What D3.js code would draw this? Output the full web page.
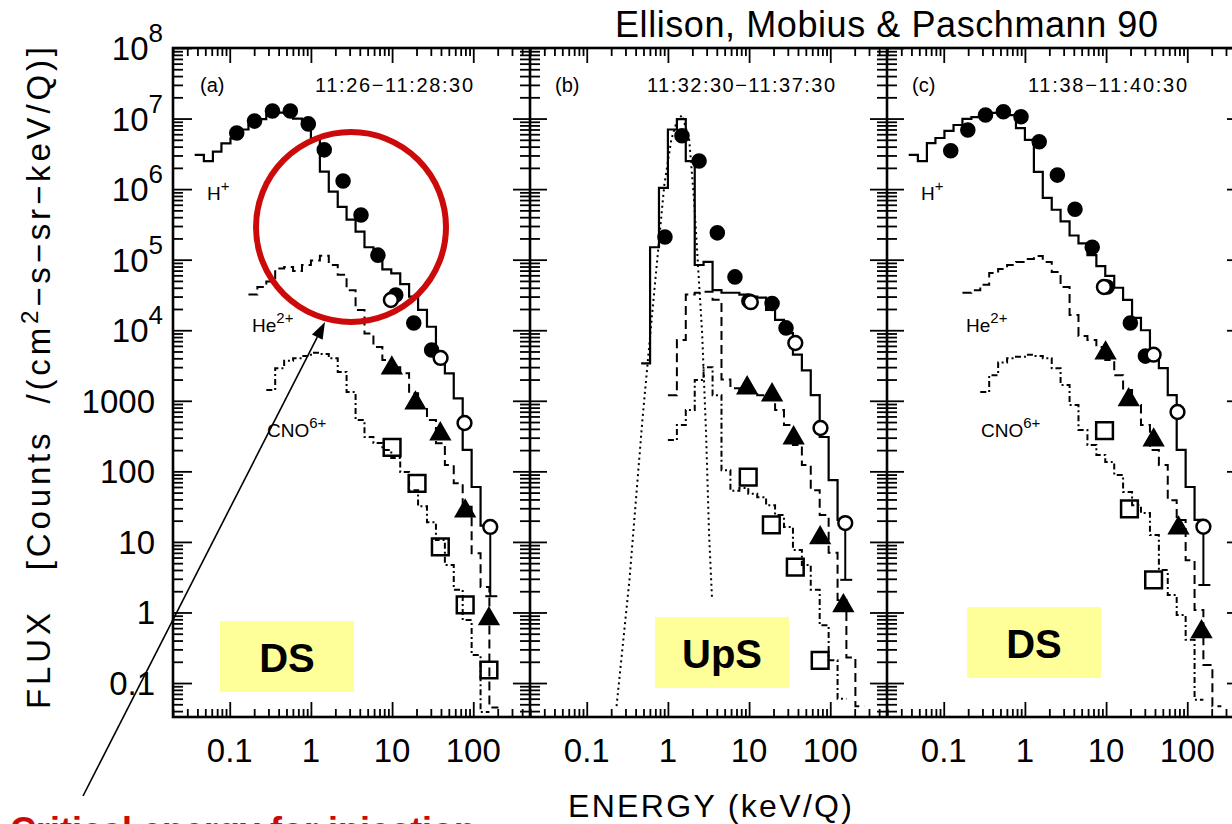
<!DOCTYPE html>
<html>
<head>
<meta charset="utf-8">
<script src="https://cdn.jsdelivr.net/npm/d3@7"></script>
<style>
html, body { margin: 0; padding: 0; background: #fff; }
svg { display: block; font-family: "Liberation Sans", Arial, sans-serif; }
</style>
</head>
<body>
<div id="chart"></div>
<script>
// energy bin lower edges (keV/Q), shared by all histograms
var binEdges = [0.037, 0.048, 0.062, 0.079, 0.102, 0.132, 0.170, 0.219, 0.282, 0.363,
    0.468, 0.603, 0.776, 1.00, 1.29, 1.66, 2.14, 2.75, 3.55, 4.57,
    5.89, 7.59, 9.77, 12.6, 16.2, 20.9, 26.9, 34.7, 44.7, 57.5,
    74.1, 95.5, 123, 158, 204, 263, 339];

var panelIds = ["(a)", "(b)", "(c)"];
var panelTimes = ["11:26\u221211:28:30", "11:32:30\u221211:37:30", "11:38\u221211:40:30"];
var regionLabels = ["DS", "UpS", "DS"];

// H+ histograms (solid), first bin index then fluxes
var hPlusStart = [0, 10, 0];
var hPlus_a = [3.05e6, 2.5e6, 3.4e6, 4.46e6, 5.25e6, 7.0e6, 8.1e6, 9.8e6, 1.12e7, 1.21e7, 1.18e7, 1.0e7, 8.1e6, 5.25e6,
    1.77e6, 9.2e5, 5.6e5, 3.7e5, 2.5e5, 1.5e5, 1.2e5, 7.3e4, 6.4e4, 4.5e4, 3.0e4, 1.94e4, 1.12e4, 3.8e3, 2.45e3, 1.08e3, 201, 60, 17];
var hPlus_b = [3.4e3, 1.5e5, 1.04e6, 7.0e6, 9.8e6, 2.5e6, 8.4e4, 9.3e4, 3.7e4, 3.4e4, 3.4e4, 3.2e4, 3.0e4, 2.9e4,
    1.94e4, 1.4e4, 9.1e3, 4.5e3, 2.7e3, 1.2e3, 307, 75, 20.5];
var hPlus_c = [3.05e6, 2.5e6, 4.5e6, 5.3e6, 6.7e6, 8.1e6, 9.9e6, 1.05e7, 1.16e7, 1.2e7, 1.2e7, 1.12e7, 7.3e6, 5.0e6,
    1.75e6, 7.5e5, 5.1e5, 3.5e5, 2.2e5, 1.7e5, 1.16e5, 8.1e4, 5.9e4, 4.0e4, 2.7e4, 1.5e4, 1.0e4, 4.9e3, 2.9e3, 1.2e3, 201, 60, 20.5];

// He2+ histograms (dashed)
var hePlusStart = [6, 13, 6];
var he_a = [3.2e4, 4.1e4, 4.9e4, 7.5e4, 7.9e4, 6.9e4, 8.4e4, 9.7e4, 1.14e5, 8.4e4, 6.1e4, 3.7e4, 1.94e4, 9.0e3,
    5.8e3, 3.8e3, 3.0e3, 2.45e3, 1.28e3, 824, 535, 250, 123, 68, 31.6, 6.9, 2.3, 0.045];
var he_b = [1.2e3, 7.3e3, 3.2e4, 3.4e4, 3.5e4, 2.7e4, 2.0e3, 1.5e3, 1.4e3, 1.35e3, 1.2e3, 1.1e3, 740, 454,
    237, 123, 54, 24, 7, 1.5, 0.23, 0.047];
var he_c = [3.4e4, 3.7e4, 4.4e4, 6.5e4, 7.4e4, 8.4e4, 9.3e4, 1.02e5, 1.13e5, 9.3e4, 6.7e4, 4.1e4, 1.64e4, 8.3e3,
    7.3e3, 5.8e3, 3.8e3, 2.3e3, 1.42e3, 871, 454, 201, 123, 39, 20.5, 5.5, 1.08, 0.18, 0.047];

// CNO6+ histograms (dash-dot)
var cnoStart = [8, 13, 8];
var cno_a = [1.42e3, 2.9e3, 3.7e3, 4.0e3, 4.3e3, 4.8e3, 4.6e3, 4.0e3, 2.56e3, 1.33e3, 535, 307, 252, 201,
    155, 98, 54, 32, 19, 10.6, 4.7, 2.1, 0.78, 0.25, 0.039];
var cno_b = [278, 454, 740, 1.97e3, 3.0e3, 1.2e3, 104, 53, 58, 48, 43, 33, 24, 16.3, 7.7, 4.7, 2.1, 0.66, 0.21, 0.06];
var cno_c = [1.33e3, 2.3e3, 3.5e3, 4.0e3, 4.2e3, 4.5e3, 4.3e3, 4.0e3, 2.9e3, 1.67e3, 871, 386, 237, 171,
    136, 89, 51, 33, 25.7, 12.5, 4.0, 1.77, 0.92, 0.41, 0.058];

// upstream beam fit in panel (b), dotted
var fitE_b = [0.233, 0.336, 0.485, 0.681, 0.902, 1.10, 1.30, 1.50, 1.83, 2.10, 2.42, 2.64, 2.95, 3.21, 3.50];
var fitF_b = [0.047, 2.9, 535, 3.7e4, 1.14e6, 5.0e6, 9.5e6, 1.12e7, 5.0e6, 7.0e5, 4.7e4, 9.1e3, 350, 13.4, 1.5];

// model points: filled circles (H+ low E), open circles (H+ high E), triangles (He), squares (CNO)
var fillE_a = [0.122, 0.202, 0.336, 0.558, 0.929, 1.46, 2.49, 4.14, 6.69, 11.1, 18.5, 30.7];
var fillF_a = [6.24e6, 9.2e6, 1.28e7, 1.28e7, 8.4e6, 3.6e6, 1.3e6, 4.3e5, 1.16e5, 3.16e4, 1.27e4, 5.25e3];
var openE_a = [9.66, 39.6, 78, 162];
var openF_a = [2.68e4, 4.05e3, 484, 16.3];
var triE_a = [9.93, 19.4, 39.3, 79.5, 156];
var triF_a = [2.9e3, 930, 339, 27.4, 0.81];
var sqE_a = [10.0, 20.3, 39.3, 79.5, 156];
var sqF_a = [218, 67.8, 8.5, 1.28, 0.153];

var fillE_b = [0.92, 1.49, 2.42, 4.06, 6.7, 9.93, 19.2, 28.5];
var fillF_b = [2.1e5, 5.7e6, 2.5e6, 2.4e5, 5.7e4, 2.6e4, 2.4e4, 1.08e4];
var openE_b = [10.5, 37.1, 75.8, 153];
var openF_b = [2.5e4, 6.6e3, 412, 18.5];
var triE_b = [9.47, 19.2, 35.4, 75.1, 145];
var triF_b = [1.52e3, 1.21e3, 297, 11.4, 1.24];
var sqE_b = [9.75, 18.8, 37.1, 75.1];
var sqF_b = [83, 17.4, 4.4, 0.21];

var fillE_c = [0.122, 0.198, 0.327, 0.543, 0.895, 1.50, 2.51, 4.14, 6.75, 10.3, 19.9, 30.5];
var fillF_c = [3.5e6, 6.9e6, 1.12e7, 1.25e7, 1.06e7, 4.7e6, 1.58e6, 5.2e5, 1.5e5, 4.1e4, 1.27e4, 4.3e3];
var openE_c = [9.4, 38.5, 75.8, 158];
var openF_c = [4.1e4, 4.5e3, 693, 16.4];
var triE_c = [9.85, 19.0, 38.5, 78, 150];
var triF_c = [4.75e3, 1.03e3, 278, 15.7, 0.53];
var sqE_c = [9.57, 19.4, 38.5];
var sqF_c = [377, 29.3, 2.9];

// error bar below the last H+ point: energy, top, bottom
var errBar_a = [162, 16.3, 1.7];
var errBar_b = [153, 18.5, 2.9];
var errBar_c = [158, 16.4, 2.45];

var yTickValues = [1e8, 1e7, 1e6, 1e5, 1e4, 1000, 100, 10, 1, 0.1];
var yTickLabels = ["8", "7", "6", "5", "4", "1000", "100", "10", "1", "0.1"];
var xTickValues = [0.1, 1, 10, 100];
var xTickLabels = ["0.1", "1", "10", "100"];

var hPlusFlux = [hPlus_a, hPlus_b, hPlus_c];
var heFlux = [he_a, he_b, he_c];
var cnoFlux = [cno_a, cno_b, cno_c];
var fills = [[fillE_a, fillF_a], [fillE_b, fillF_b], [fillE_c, fillF_c]];
var opens = [[openE_a, openF_a], [openE_b, openF_b], [openE_c, openF_c]];
var tris = [[triE_a, triF_a], [triE_b, triF_b], [triE_c, triF_c]];
var sqs = [[sqE_a, sqF_a], [sqE_b, sqF_b], [sqE_c, sqF_c]];
var errBars = [errBar_a, errBar_b, errBar_c];

// layout
var panelLeft = [173, 530, 887];
var panelWidth = 357;
var plotTop = 48, plotBottom = 717;
var boxX = [220, 655, 967], boxY = [621, 617, 607];

var svg = d3.select("#chart")
    .append("svg")
    .attr("width", 1232)
    .attr("height", 824);

var y = d3.scaleLog().domain([0.033, 1e8]).range([plotBottom, plotTop]);

var yMinor = [];
for (var d = -2; d <= 7; d++) {
    for (var m = 2; m <= 9; m++) {
        var v = m * Math.pow(10, d);
        if (v >= 0.033 && v < 1e8) yMinor.push(v);
    }
}
var xMinor = [];
for (var d2 = -2; d2 <= 2; d2++) {
    for (var m2 = 2; m2 <= 9; m2++) {
        var v2 = m2 * Math.pow(10, d2);
        if (v2 >= 0.02 && v2 <= 500) xMinor.push(v2);
    }
}

function tickAxis(axis, values, size) {
    return axis.tickValues(values).tickSize(size).tickFormat("");
}

function addAxis(gen, transform) {
    var a = svg.append("g")
        .attr("transform", transform)
        .call(gen);
    a.select(".domain").remove();
    a.selectAll("line").attr("stroke", "#000").attr("stroke-width", 1.8);
}

function stepPath(x, start, flux) {
    var pts = flux.map(function(v, j) {
        return [binEdges[start + j], v];
    });
    pts.push([binEdges[start + flux.length], flux[flux.length - 1]]);
    return d3.line()
        .x(function(p) { return x(p[0]); })
        .y(function(p) { return y(p[1]); })
        .curve(d3.curveStepAfter)(pts);
}

function markers(g, x, pair, symbol, size, fill, stroke) {
    g.selectAll(null)
        .data(pair[0].map(function(e, j) { return [e, pair[1][j]]; }))
        .enter()
        .append("path")
        .attr("d", d3.symbol().type(symbol).size(size))
        .attr("transform", function(p) {
            return "translate(" + x(p[0]) + "," + y(p[1]) + ")";
        })
        .attr("fill", fill)
        .attr("stroke", stroke)
        .attr("stroke-width", 2.5);
}

var defs = svg.append("defs");

panelIds.forEach(function(id, i) {
    var left = panelLeft[i];
    var x = d3.scaleLog().domain([0.02, 500]).range([left, left + panelWidth]);

    defs.append("clipPath").attr("id", "clip" + i)
        .append("rect")
        .attr("x", left).attr("y", plotTop)
        .attr("width", panelWidth).attr("height", plotBottom - plotTop);

    var g = svg.append("g").attr("clip-path", "url(#clip" + i + ")");

    // histograms
    g.append("path")
        .attr("d", stepPath(x, cnoStart[i], cnoFlux[i]))
        .attr("fill", "none").attr("stroke", "#000").attr("stroke-width", 2)
        .attr("stroke-dasharray", "6,3,2,3");
    g.append("path")
        .attr("d", stepPath(x, hePlusStart[i], heFlux[i]))
        .attr("fill", "none").attr("stroke", "#000").attr("stroke-width", 2)
        .attr("stroke-dasharray", "9,5");
    g.append("path")
        .attr("d", stepPath(x, hPlusStart[i], hPlusFlux[i]))
        .attr("fill", "none").attr("stroke", "#000").attr("stroke-width", 2.2);

    if (i == 1) {
        g.append("path")
            .datum(fitE_b.map(function(e, j) { return [e, fitF_b[j]]; }))
            .attr("d", d3.line()
                .x(function(p) { return x(p[0]); })
                .y(function(p) { return y(p[1]); }))
            .attr("fill", "none").attr("stroke", "#000").attr("stroke-width", 2)
            .attr("stroke-dasharray", "2,3.5");
    }

    // error bar under last H+ point
    var eb = errBars[i];
    g.append("line")
        .attr("x1", x(eb[0])).attr("x2", x(eb[0]))
        .attr("y1", y(eb[1])).attr("y2", y(eb[2]))
        .attr("stroke", "#000").attr("stroke-width", 2);
    g.append("line")
        .attr("x1", x(eb[0]) - 5).attr("x2", x(eb[0]) + 7)
        .attr("y1", y(eb[2])).attr("y2", y(eb[2]))
        .attr("stroke", "#000").attr("stroke-width", 2);

    markers(g, x, sqs[i], d3.symbolSquare, 280, "none", "#000");
    markers(g, x, tris[i], d3.symbolTriangle, 140, "#000", "#000");
    markers(g, x, fills[i], d3.symbolCircle, 190, "#000", "none");
    markers(g, x, opens[i], d3.symbolCircle, 150, "#fff", "#000");

    // x ticks, top (pointing down) and bottom (pointing up)
    addAxis(tickAxis(d3.axisBottom(x), xTickValues, 15), "translate(0," + plotTop + ")");
    addAxis(tickAxis(d3.axisBottom(x), xMinor, 8), "translate(0," + plotTop + ")");
    addAxis(tickAxis(d3.axisTop(x), xTickValues, 15), "translate(0," + plotBottom + ")");
    addAxis(tickAxis(d3.axisTop(x), xMinor, 8), "translate(0," + plotBottom + ")");

    svg.append("g").selectAll(null)
        .data(xTickValues)
        .enter()
        .append("text")
        .attr("x", function(v) { return x(v); })
        .attr("y", 762)
        .attr("text-anchor", "middle")
        .style("font-size", "33px")
        .text(function(v, j) { return xTickLabels[j]; });

    // panel id and time interval
    svg.append("text")
        .attr("x", left + [27, 25, 25][i]).attr("y", 92)
        .style("font-size", "20px")
        .text(id);
    svg.append("text")
        .attr("x", left + [142, 117, 141][i]).attr("y", 92)
        .attr("textLength", [158, 188, 159][i])
        .attr("lengthAdjust", "spacing")
        .style("font-size", "20px")
        .text(panelTimes[i]);
});

// y ticks on every vertical frame line
var yLines = [173, 530, 887, 1244];
yLines.forEach(function(xp, j) {
    if (j < 3) {
        addAxis(tickAxis(d3.axisRight(y), yTickValues, j == 0 ? 19 : 17), "translate(" + xp + ",0)");
        addAxis(tickAxis(d3.axisRight(y), yMinor, 10), "translate(" + xp + ",0)");
    }
    if (j > 0) {
        addAxis(tickAxis(d3.axisLeft(y), yTickValues, 17), "translate(" + xp + ",0)");
        addAxis(tickAxis(d3.axisLeft(y), yMinor, 10), "translate(" + xp + ",0)");
    }
});

// frame
svg.append("rect")
    .attr("x", 173).attr("y", plotTop)
    .attr("width", 1244 - 173).attr("height", plotBottom - plotTop)
    .attr("fill", "none").attr("stroke", "#000").attr("stroke-width", 2.6);
[530, 887].forEach(function(xp) {
    svg.append("line")
        .attr("x1", xp).attr("x2", xp).attr("y1", plotTop).attr("y2", plotBottom)
        .attr("stroke", "#000").attr("stroke-width", 2.6);
});

// y tick labels
yTickValues.forEach(function(v, j) {
    var t = svg.append("text")
        .attr("y", y(v) + 12)
        .attr("text-anchor", "end")
        .style("font-size", "33px");
    if (j < 5) {
        t.attr("x", 163).text("10");
        t.append("tspan").attr("dy", -18).style("font-size", "26px").text(yTickLabels[j]);
    } else {
        t.attr("x", 155).text(yTickLabels[j]);
    }
});

// species labels (panels a and c)
var speciesNames = [["H", "+"], ["He", "2+"], ["CNO", "6+"]];
var speciesDx = [34, 79, 94];
var speciesY = [200, 332, 437];
[0, 2].forEach(function(i) {
    speciesNames.forEach(function(s, j) {
        var t = svg.append("text")
            .attr("x", panelLeft[i] + speciesDx[j])
            .attr("y", speciesY[j])
            .style("font-size", "19px")
            .text(s[0]);
        t.append("tspan").attr("dy", -9).style("font-size", "15px").text(s[1]);
    });
});

// axis titles and header
svg.append("text")
    .attr("transform", "translate(50,378) rotate(-90)")
    .attr("text-anchor", "middle")
    .attr("textLength", 662)
    .attr("lengthAdjust", "spacing")
    .style("font-size", "33px")
    .style("white-space", "pre")
    .text("FLUX   [Counts  /(cm")
    .append("tspan").attr("dy", -12).style("font-size", "24px").text("2")
    .select(function() { return this.parentNode; })
    .append("tspan").attr("dy", 12).text("\u2212s\u2212sr\u2212keV/Q)]");

svg.append("text")
    .attr("x", 568).attr("y", 817)
    .attr("textLength", 284)
    .attr("lengthAdjust", "spacing")
    .style("font-size", "32px")
    .text("ENERGY (keV/Q)");

svg.append("text")
    .attr("x", 615).attr("y", 37)
    .attr("textLength", 543)
    .attr("lengthAdjust", "spacing")
    .style("font-size", "36px")
    .text("Ellison, Mobius & Paschmann 90");

// region boxes
regionLabels.forEach(function(lbl, i) {
    svg.append("rect")
        .attr("x", boxX[i]).attr("y", boxY[i])
        .attr("width", 134).attr("height", 71)
        .attr("fill", "#ffff99");
    svg.append("text")
        .attr("x", boxX[i] + 67).attr("y", boxY[i] + 51)
        .attr("text-anchor", "middle")
        .style("font-size", "40px").style("font-weight", "bold")
        .text(lbl);
});

// highlight circle and arrow
svg.append("circle")
    .attr("cx", 351).attr("cy", 227).attr("r", 95)
    .attr("fill", "none").attr("stroke", "#cc0a0a").attr("stroke-width", 6);

var ax0 = 83, ay0 = 796, ax1 = 325, ay1 = 322;
var ang = Math.atan2(ay1 - ay0, ax1 - ax0);
var hl = 17, hw = 6;
svg.append("line")
    .attr("x1", ax0).attr("y1", ay0)
    .attr("x2", ax1 - hl * Math.cos(ang)).attr("y2", ay1 - hl * Math.sin(ang))
    .attr("stroke", "#000").attr("stroke-width", 1.6);
svg.append("path")
    .attr("d", "M" + ax1 + "," + ay1 +
        "L" + (ax1 - hl * Math.cos(ang) + hw * Math.sin(ang)) + "," + (ay1 - hl * Math.sin(ang) - hw * Math.cos(ang)) +
        "L" + (ax1 - hl * Math.cos(ang) - hw * Math.sin(ang)) + "," + (ay1 - hl * Math.sin(ang) + hw * Math.cos(ang)) + "Z")
    .attr("fill", "#000");

// caption runs off the bottom edge, as in the source slide
svg.append("text")
    .attr("x", 10).attr("y", 843)
    .style("font-size", "36px").style("font-weight", "bold")
    .attr("fill", "#cc0a0a")
    .text("Critical energy for injection");
</script>
</body>
</html>
